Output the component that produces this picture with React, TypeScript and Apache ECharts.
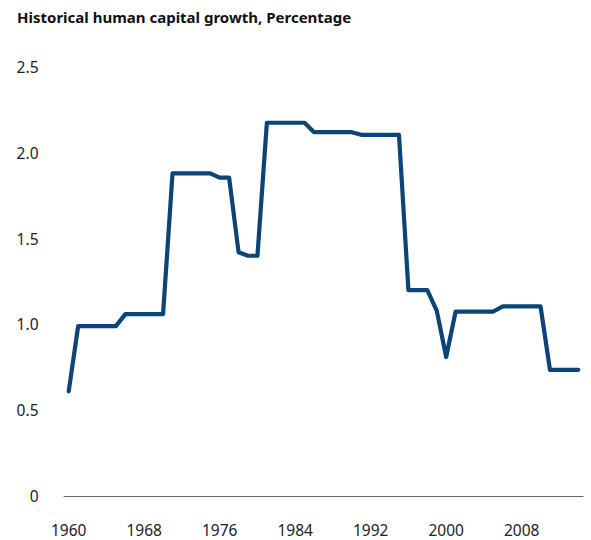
import React, { useEffect, useRef } from "react";
import * as echarts from "echarts";

const TITLE = "Historical human capital growth, Percentage";

const years: string[] = [];
for (let y = 1960; y <= 2014; y++) years.push(String(y));

const growth: number[] = [
  0.61, 0.99, 0.99, 0.99, 0.99, 0.99, 1.06, 1.06, 1.06, 1.06,
  1.06, 1.88, 1.88, 1.88, 1.88, 1.88, 1.855, 1.855, 1.42, 1.40,
  1.40, 2.175, 2.175, 2.175, 2.175, 2.175, 2.12, 2.12, 2.12, 2.12,
  2.12, 2.105, 2.105, 2.105, 2.105, 2.105, 1.20, 1.20, 1.20, 1.08,
  0.81, 1.075, 1.075, 1.075, 1.075, 1.075, 1.105, 1.105, 1.105, 1.105,
  1.105, 0.735, 0.735, 0.735, 0.735,
];

const FONT = "'Noto Sans', Lato, sans-serif";

export default function App() {
  const ref = useRef<HTMLDivElement>(null);
  useEffect(() => {
    if (!ref.current) return;
    const chart = echarts.init(ref.current, null, { renderer: "svg" });
    chart.setOption({
      animation: false,
      backgroundColor: "#ffffff",
      title: {
        text: TITLE,
        left: 17,
        top: 9,
        padding: 0,
        textStyle: {
          fontFamily: FONT,
          fontSize: 15,
          fontWeight: "bold",
          color: "#111111",
        },
      },
      grid: { left: 64, right: 8, top: 67, bottom: 44, containLabel: false },
      xAxis: {
        type: "category",
        data: years,
        boundaryGap: true,
        axisLine: { show: true, lineStyle: { color: "#666666", width: 1 } },
        axisTick: { show: false },
        axisLabel: {
          interval: 7,
          margin: 26,
          fontFamily: FONT,
          fontSize: 15.5,
          color: "#222222",
        },
        splitLine: { show: false },
      },
      yAxis: {
        type: "value",
        min: 0,
        max: 2.5,
        interval: 0.5,
        axisLine: { show: false },
        axisTick: { show: false },
        splitLine: { show: false },
        axisLabel: {
          margin: 25.5,
          fontFamily: FONT,
          fontSize: 15.5,
          color: "#222222",
          formatter: (v: number) => (v === 0 ? "0" : v.toFixed(1)),
        },
      },
      series: [
        {
          type: "line",
          data: growth,
          showSymbol: false,
          symbol: "none",
          lineStyle: { color: "#0B4577", width: 4.2, cap: "round", join: "round" },
        },
      ],
    });
    return () => chart.dispose();
  }, []);
  return (
    <div
      ref={ref}
      style={{ position: "fixed", left: 0, top: 0, width: 591, height: 540 }}
    />
  );
}
